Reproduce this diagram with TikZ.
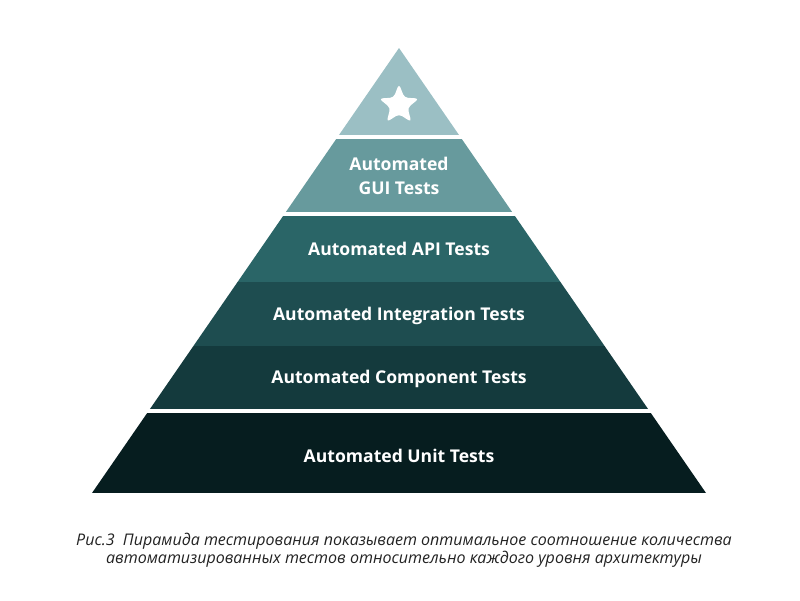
\documentclass[tikz,border=0pt]{standalone}
\usepackage{fontspec}
\setmainfont{Open Sans}
\usetikzlibrary{shapes.geometric}
\definecolor{tiertop}{HTML}{9BBFC4}
\definecolor{tiergui}{HTML}{679A9D}
\definecolor{tierapi}{HTML}{2A6567}
\definecolor{tierint}{HTML}{1E4D50}
\definecolor{tiercomp}{HTML}{143A3D}
\definecolor{tierunit}{HTML}{061D1F}
\definecolor{capgray}{HTML}{222222}
\tikzset{
  tierlabel/.style={text=white, font=\fontsize{12.5}{17.6}\selectfont\bfseries,
                    align=center, inner sep=0pt},
  figcaption/.style={text=capgray, font=\fontsize{11.4}{11.4}\selectfont\itshape,
                     align=center, inner sep=0pt},
}

\begin{document}
\begin{tikzpicture}[x=0.025cm, y=-0.025cm]
\useasboundingbox (0,0) rectangle (800,600);
% Pyramid: bands clipped to the outline
\begin{scope}
\clip (399,48) -- (92,493) -- (706,493) -- cycle;
\foreach \ytop/\ybot/\col in {48/135/tiertop, 139/212/tiergui, 216/282/tierapi,
                             282/346/tierint, 346/409/tiercomp, 413/493/tierunit}
  \fill[\col] (0,\ytop) rectangle (800,\ybot);
\end{scope}

% Top: star
\node[star, star points=5, star point ratio=2.3, fill=white, inner sep=0pt,
      minimum size=1.05cm, rounded corners=2.5pt] (topstar) at (399,105) {};

% Tier labels
\node[tierlabel] (lblgui)  at (399,176) {Automated\\GUI Tests};
\node[tierlabel] (lblapi)  at (399,249) {Automated API Tests};
\node[tierlabel] (lblint)  at (399,316) {Automated Integration Tests};
\node[tierlabel] (lblcomp) at (399,379) {Automated Component Tests};
\node[tierlabel] (lblunit) at (399,456) {Automated Unit Tests};

% Caption
\node[figcaption] (caption) at (404,550) {Рис.3\ \ Пирамида тестирования показывает оптимальное соотношение количества\\
автоматизированных тестов относительно каждого уровня архитектуры};
\end{tikzpicture}
\end{document}
